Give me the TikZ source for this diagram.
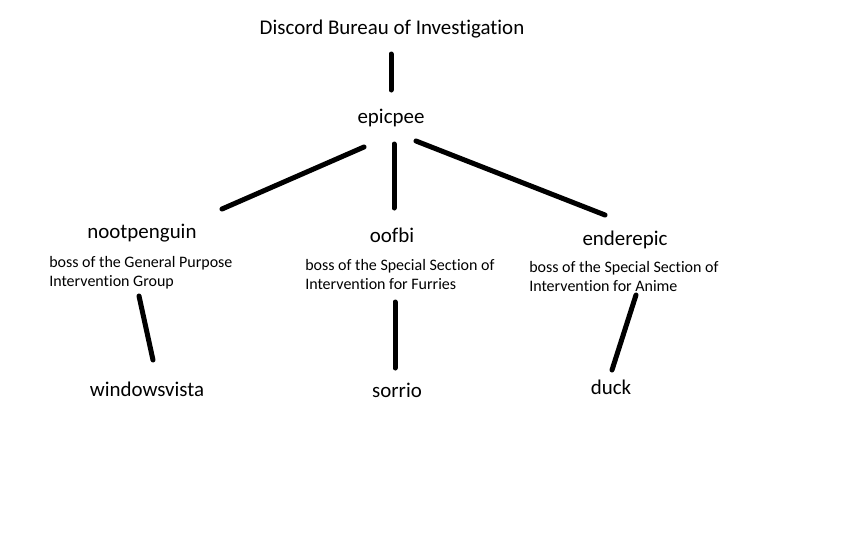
\documentclass[tikz,border=0pt]{standalone}
\usepackage{fontspec}
\setmainfont{Carlito}[Ligatures=NoCommon]
\usetikzlibrary{positioning}
\usetikzlibrary{calc}

\tikzset{
  member/.style={font=\fontsize{15.7}{19}\selectfont, inner sep=1pt},
  duty/.style={font=\fontsize{12}{14.25}\selectfont, align=left, anchor=west, inner sep=0pt},
  bar/.style={line width=3.75pt, line cap=round}
}

\begin{document}
\begin{tikzpicture}[x=0.75pt, y=-0.75pt]
\useasboundingbox (0,0) rectangle (849,536);

\node[member](dbi) at (392,29){Discord Bureau of Investigation};
\node[member](epicpee) at (391,118){epicpee};
\node[member](nootpenguin) at (142,233){nootpenguin};
\node[member](oofbi) at (392,235){oofbi};
\node[member](enderepic) at (625,240){enderepic};
\node[member](windowsvista) at (147,389){windowsvista};
\node[member](sorrio) at (397,390){sorrio};
\node[member](duck) at (611,387){duck};

\node[duty](nootDuty) at (49,272.5){boss of the General Purpose\\Intervention Group};
\node[duty](oofbiDuty) at (305,274.5){boss of the Special Section of\\Intervention for Furries};
\node[duty](enderDuty) at (529,276.5){boss of the Special Section of\\Intervention for Anime};

% line ends
\coordinate (dbiS) at (391,54);
\coordinate (epicN) at (391,90);
\coordinate (epicSW) at (364,147);
\coordinate (nootN) at (222,209);
\coordinate (epicS) at (394,144);
\coordinate (oofbiN) at (394,208);
\coordinate (epicSE) at (416,141);
\coordinate (enderN) at (605,215);
\coordinate (nootS) at (139,296);
\coordinate (vistaN) at (153,360);
\coordinate (oofbiS) at (395,302);
\coordinate (sorrioN) at (395,368);
\coordinate (enderS) at (636,295);
\coordinate (duckN) at (612,370);

\path
(dbiS) edge[bar] (epicN)
(epicSW) edge[bar] (nootN)
(epicS) edge[bar] (oofbiN)
(epicSE) edge[bar] (enderN)
(nootS) edge[bar] (vistaN)
(oofbiS) edge[bar] (sorrioN)
(enderS) edge[bar] (duckN);
\end{tikzpicture}
\end{document}
